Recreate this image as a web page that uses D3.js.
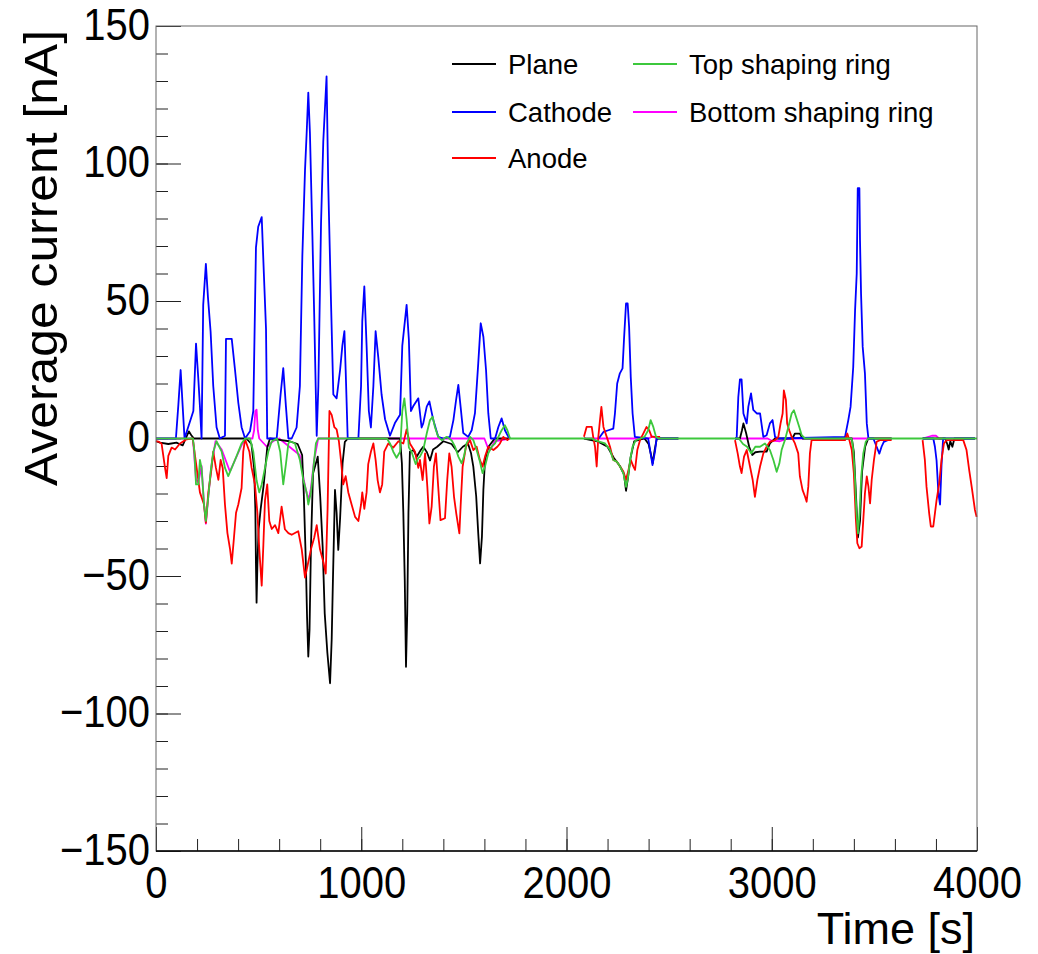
<!DOCTYPE html>
<html>
<head>
<meta charset="utf-8">
<script src="https://cdn.jsdelivr.net/npm/d3@7"></script>
<style>
  body { margin: 0; background: #fff; }
  svg { display: block; font-family: "Liberation Sans", Arial, Helvetica, sans-serif; }
</style>
</head>
<body>
<svg id="chart" width="1038" height="954"></svg>
<script>
// [time (s), average current (nA)], null marks a gap in the run
var plane = [
  [0,-1],[20,-1.5],[60,-2],[100,-1.5],[109,-1.8],[130,-2.5],[145,0],[160,2.6],[172,1.2],[185,0],[440,0],[465,-2],[478,-10.7],[484,-25.6],[487,-46],[490,-59.7],[494,-46],[500,-33],[510,-25.6],[525,-16.7],[542,-3.3],[555,0],[600,-0.5],[650,-1],[690,-2],[712,-6],[720,-20],[730,-45],[736,-65],[742,-79.3],[748,-69.6],[755,-39],[765,-12.7],[788,-6.6],[800,-21],[812,-39.4],[822,-63.6],[835,-78],[848,-89],[856,-73],[862,-51.5],[872,-18.7],[880,-27],[888,-40.5],[897,-29],[909,-9],[920,-1.2],[935,0],[1189,0],[1198,-9],[1205,-27],[1212,-51.5],[1218,-83],[1224,-63.6],[1230,-27],[1237,-4.8],[1255,-4.2],[1270,-6.6],[1290,-4.2],[1302,-3],[1320,-5],[1335,-8],[1350,-4],[1370,-3],[1400,-1],[1440,-2],[1470,-5],[1495,-3],[1520,-1.8],[1535,-5.4],[1546,-10.2],[1560,-21],[1570,-34.5],[1579,-45.4],[1588,-35.7],[1595,-18.7],[1603,-7.8],[1620,-3],[1650,0],[1720,0],
  null,
  [2085,0],[2150,-1],[2200,-3],[2230,-7],[2260,-10],[2280,-13],[2290,-19],[2300,-14],[2312,-7],[2330,-1],[2380,0],[2400,-2],[2412,-6],[2420,-9],[2430,-4],[2440,0],[2545,0],
  null,
  [2821,0],[2845,0],[2855,3],[2862,5.5],[2875,2],[2890,-3],[2905,-6],[2920,-5],[2943,-4.8],[2975,-4.8],[2991,-1.8],[3016,0],[3100,0],[3113,1.8],[3137,1.8],[3150,0],[3390,0],[3400,-5],[3410,-20],[3420,-36],[3430,-30],[3440,-12],[3455,-3],[3470,0],[3584,0],
  null,
  [3735,0],[3845,0],[3855,-2],[3862,-4],[3870,-1],[3880,-3],[3890,0],[3990,0]
];

var cathode = [
  [0,0],[97,0],[109,12.3],[120,24.9],[130,11.7],[139,0],[182,10],[195,34.5],[206,21.9],[214,11.7],[222,0],[230,48.6],[243,63.5],[253,51.5],[266,38.9],[279,19],[295,4.1],[311,0],[336,1],[341,36.2],[369,36.2],[385,24.9],[401,13],[417,4.1],[434,0],[458,2.6],[474,10],[487,69.4],[498,77],[515,80.5],[526,59],[536,39.8],[542,0],[588,0],[607,16],[620,25.6],[633,11.7],[645,0],[661,0],[685,4],[701,19],[713,66.4],[726,97.6],[734,111],[742,125.8],[750,111],[762,73.8],[771,44.2],[783,1],[791,19],[804,78],[815,108],[831,131.7],[839,93],[853,48.6],[864,16],[880,14.6],[897,25],[908,33.8],[918,39],[924,25],[934,0],[986,0],[999,19],[1005,42.7],[1015,55.3],[1026,33.8],[1037,10],[1047,4],[1059,19],[1070,39],[1083,29.5],[1099,16],[1116,7],[1140,1],[1164,5.6],[1189,8.6],[1200,33.8],[1221,48.6],[1232,36],[1242,10],[1253,11.7],[1278,14.6],[1294,4],[1302,5.5],[1319,11.6],[1332,13.5],[1351,6.7],[1375,0.6],[1400,0],[1432,0.6],[1449,6.7],[1462,14],[1473,19.5],[1484,11.6],[1497,2],[1521,0.6],[1538,3],[1554,9.2],[1570,27.3],[1582,41.9],[1595,37],[1608,24.9],[1619,9.2],[1631,0],[1652,0],[1668,4.2],[1684,7.3],[1700,3],[1717,0.6],[1725,0],
  null,
  [2157,0],[2180,2.4],[2204,3],[2228,3.6],[2236,9.1],[2247,20],[2260,23.7],[2273,25.5],[2280,35.8],[2290,49.1],[2298,49.1],[2305,40.6],[2313,22.4],[2322,9.1],[2333,0.6],[2398,0],[2410,-5.5],[2419,-9.7],[2431,-4.8],[2439,0],[2545,0],
  null,
  [2821,0],[2829,0],[2837,15],[2845,21.5],[2853,21.5],[2862,9.1],[2878,5.5],[2886,11.6],[2899,16.4],[2910,10.4],[2927,9.1],[2943,9.1],[2959,0.6],[2975,1.2],[2991,5.5],[3004,6.7],[3016,0.6],[3032,0],[3357,0.6],[3373,6.7],[3384,11.5],[3397,26],[3406,46.7],[3414,60],[3419,91],[3427,91],[3430,72],[3435,52.8],[3443,33.4],[3454,23.7],[3463,5.5],[3471,0],[3495,0],[3511,-3],[3524,-5.5],[3535,-3],[3546,-1.2],[3584,0],
  null,
  [3735,0],[3787,0],[3795,-3],[3803,-8],[3812,-20],[3820,-24],[3827,-10],[3835,0],[3990,0]
];

var anode = [
  [0,-1],[11,-1.1],[27,-1.8],[44,-10.7],[52,-14.4],[60,-6.3],[76,-3.3],[93,-4],[117,-1.8],[149,-0.3],[179,0],[198,-10.7],[214,-19.6],[234,-24],[243,-30.7],[255,-19.6],[271,-10.7],[279,-4.8],[292,-10.7],[304,-15],[315,-7.8],[325,-10.7],[336,-24],[348,-34.4],[361,-40.3],[369,-45.5],[380,-35.9],[390,-27],[401,-24],[417,-18],[425,-4.8],[434,-0.3],[455,-4.8],[466,-10.7],[482,-16.7],[494,-27],[503,-40],[515,-53.5],[523,-38.8],[531,-22.5],[542,-16.7],[552,-30],[564,-32.9],[580,-31.5],[596,-34.4],[612,-24.8],[628,-33],[645,-34.4],[661,-35],[693,-33.7],[710,-40.3],[726,-50.6],[739,-46],[755,-40.3],[771,-36],[783,-31.5],[799,-40.3],[815,-44.8],[827,-49.1],[836,-25.6],[845,10],[856,8.6],[869,4.1],[880,3.3],[891,-1],[901,-7.8],[912,-16.7],[924,-13.7],[937,-19.6],[953,-24],[970,-28.5],[986,-30],[999,-24],[1005,-19.6],[1015,-25.6],[1026,-19.6],[1034,-9.3],[1047,-4.8],[1059,-1.8],[1070,-7.8],[1080,-15.2],[1091,-19.6],[1102,-16.7],[1112,-4.8],[1132,-1.8],[1156,-3.3],[1181,-1],[1205,-1.8],[1221,3.3],[1237,-1.8],[1262,-4.8],[1278,-10.7],[1286,-7.8],[1299,-15.1],[1311,-5.4],[1322,-17.6],[1332,-30.9],[1343,-24.8],[1354,-10.2],[1364,-5.4],[1375,-17.6],[1386,-29.7],[1408,-29],[1419,-15],[1429,-5.4],[1440,-10.2],[1452,-21.2],[1463,-27.3],[1478,-34.5],[1484,-24.8],[1494,-10.2],[1510,-3],[1530,-0.6],[1546,-4.2],[1562,-3],[1578,-7.8],[1591,-10.2],[1603,-6.6],[1619,-3],[1644,-4.2],[1663,-3],[1676,-1.8],[1692,0.6],[1712,-0.6],[1720,0],
  null,
  [2085,0.6],[2098,4.2],[2123,4.2],[2130,0.6],[2139,-3],[2147,-10.2],[2155,0.6],[2163,6.6],[2170,11.5],[2180,4.2],[2196,0.6],[2212,-3],[2228,-7.8],[2245,-8.4],[2261,-10.2],[2277,-12],[2290,-15],[2302,-11.4],[2313,-7.8],[2326,-10.2],[2334,-11.4],[2345,-4.2],[2358,-0.6],[2374,1.8],[2390,4.2],[2403,3],[2415,0.6],[2456,0.6],
  null,
  [2821,-0.6],[2834,-5.4],[2845,-10.2],[2853,-12.6],[2865,-6.6],[2878,-4.2],[2894,-10.2],[2907,-15],[2918,-21.2],[2930,-15],[2943,-10.2],[2959,-5.4],[2975,-3],[2991,-1.2],[3016,-0.6],[3032,0.6],[3043,5.5],[3053,9.1],[3059,17.5],[3069,14],[3075,5.5],[3085,3],[3097,0.6],[3113,-1.8],[3129,-5.4],[3137,-13.8],[3150,-18.7],[3162,-21.1],[3170,-23],[3178,-17.5],[3186,-5.4],[3194,-0.6],[3357,-0.6],[3368,1.8],[3378,-0.6],[3390,-4.2],[3400,-12.6],[3410,-29.6],[3417,-38.1],[3427,-39.9],[3438,-39.3],[3446,-29.6],[3454,-19.9],[3463,-13.8],[3471,-17.5],[3479,-23.6],[3487,-15],[3498,-7.8],[3511,-1.2],[3527,-0.6],[3584,-0.6],
  null,
  [3735,-0.6],[3746,-7.8],[3754,-17.5],[3767,-27.2],[3775,-32],[3787,-32],[3795,-27.2],[3803,-22.4],[3816,-16.3],[3827,-7.8],[3839,-1.8],[3852,-0.6],[3933,-0.6],[3949,-4.2],[3962,-11.5],[3974,-17.5],[3990,-26],[3998,-28.5]
];

var topRing = [
  [0,0],[180,0],[187,-4.8],[195,-16.7],[206,-16.7],[214,-7.8],[222,-10.7],[234,-24],[243,-30],[255,-21],[266,-12.2],[279,-4.8],[295,-1],[320,-4.8],[336,-10.7],[352,-13.7],[369,-10.7],[393,-6.3],[417,-1.8],[434,0],[458,0],[474,-4.8],[490,-15.2],[503,-19.6],[515,-16.7],[531,-10.7],[547,-4.8],[564,-1],[590,0],[605,-4.8],[620,-16.7],[633,-9.3],[645,-1.8],[653,-1],[677,-1.8],[701,-7.8],[718,-15.2],[734,-19.6],[742,-24],[755,-19.6],[767,-10.7],[779,-1.8],[790,0],[1125,0],[1140,-1.8],[1156,-4.8],[1172,-7],[1189,-4.8],[1200,10],[1210,14.6],[1221,7],[1232,-3.3],[1245,-4.8],[1265,-9.3],[1278,-7],[1286,-6.6],[1302,-4.2],[1319,1.8],[1335,6.7],[1348,7.9],[1359,4.2],[1375,0.6],[1392,-0.6],[1416,0.6],[1440,-0.6],[1457,-3],[1473,-6.6],[1489,-9],[1500,-6.6],[1513,-1.8],[1530,0.6],[1546,-0.6],[1562,-4.2],[1578,-8.4],[1591,-12.6],[1603,-10.2],[1619,-5.4],[1635,-3],[1652,-1.8],[1668,0.6],[1684,3],[1700,4.8],[1712,3],[1725,0],[2125,0],[2139,-0.6],[2163,-1.2],[2188,-1.8],[2212,-4.2],[2228,-7.8],[2245,-8.4],[2261,-10.2],[2277,-12.6],[2290,-17.6],[2298,-15],[2310,-7.8],[2322,-3],[2338,-0.6],[2360,0],[2380,0.6],[2398,3],[2410,6.7],[2423,4.2],[2436,0.6],[2450,0],[2840,0],[2860,-2],[2880,-3],[2900,-5.4],[2920,-3],[2943,-3],[2967,-1.8],[2991,-4.2],[3008,-7.8],[3024,-12.1],[3037,-9.1],[3048,-4.2],[3064,-0.6],[3081,4.2],[3097,9.1],[3108,10.3],[3121,7.3],[3134,4.2],[3146,1.2],[3162,0],[3390,0],[3397,-4],[3405,-13.8],[3412,-26],[3420,-34.5],[3428,-27],[3436,-13.8],[3446,-5.4],[3458,-1.2],[3470,0],[4000,0]
];

var bottomRing = [
  [0,0],[180,0],[195,-15],[206,-16],[222,-10],[234,-24],[243,-31],[255,-21],[270,-10],[290,-1],[320,-4],[360,-12],[420,-2],[440,0],[470,0],[478,3],[484,10],[490,10.5],[496,3],[503,0],[540,-3],[570,-1],[600,0],[700,-6],[720,-15],[734,-20],[745,-22],[755,-18],[770,-8],[790,0],[1150,0],[1600,0],[1615,-3],[1630,-4],[1650,-1],[1725,0],
  null,
  [2085,0],[2400,0],[2420,0.8],[2440,0],[2545,0],
  null,
  [2821,0],[2980,0],[3000,-0.8],[3040,-1],[3080,0],[3584,0],
  null,
  [3735,0],[3780,1],[3800,1],[3815,0],[3990,0]
];

var seriesNames = ["Plane", "Cathode", "Anode", "Top shaping ring", "Bottom shaping ring"];
var seriesColors = ["#000000", "#0000ff", "#ff0000", "#3cc83c", "#ff00ff"];
var seriesData = [plane, cathode, anode, topRing, bottomRing];
var drawOrder = [4, 0, 1, 2, 3];

var xMajor = [0, 1000, 2000, 3000, 4000];
var yMajor = [-150, -100, -50, 0, 50, 100, 150];

var margin = { top: 26, left: 156 };
var width = 821, height = 825;
var stretch = 1.12; // labels in the picture are a bit taller than wide

var svg = d3.select("#chart");
var g = svg.append("g")
    .attr("transform", "translate(" + margin.left + "," + margin.top + ")");

var x = d3.scaleLinear().domain([0, 4000]).range([0, width]);
var y = d3.scaleLinear().domain([-150, 150]).range([height, 0]);

// minor ticks
g.append("g")
    .attr("transform", "translate(0," + height + ")")
    .call(d3.axisBottom(x).tickValues(d3.range(0, 4001, 200)).tickSize(-12).tickFormat(""))
    .call(a => a.select(".domain").remove());
g.append("g")
    .call(d3.axisLeft(y).tickValues(d3.range(-150, 151, 10)).tickSize(-12).tickFormat(""))
    .call(a => a.select(".domain").remove());

// major ticks + labels
var xAxis = g.append("g")
    .attr("transform", "translate(0," + height + ")")
    .call(d3.axisBottom(x).tickValues(xMajor).tickSize(-24).tickPadding(14).tickFormat(d3.format("d")))
    .call(a => a.select(".domain").remove());
var yAxis = g.append("g")
    .call(d3.axisLeft(y).tickValues(yMajor).tickSize(-25).tickPadding(6)
        .tickFormat(d => d < 0 ? "\u2212" + Math.abs(d) : d))
    .call(a => a.select(".domain").remove());

[xAxis, yAxis].forEach(function(a) {
    a.selectAll("text")
        .attr("fill", "#000")
        .attr("transform", "scale(1," + stretch + ")")
        .style("font-size", "40px")
        .style("font-family", "'Liberation Sans', Arial, sans-serif");
});
yAxis.selectAll("text").attr("dy", "0.30em");
g.selectAll(".tick line").attr("stroke", "#222");

// series
var line = d3.line()
    .defined(d => d !== null)
    .x(d => x(d[0]))
    .y(d => y(d[1]));

drawOrder.forEach(function(i) {
    g.append("path")
        .datum(seriesData[i])
        .attr("fill", "none")
        .attr("stroke", seriesColors[i])
        .attr("stroke-width", 1.8)
        .attr("stroke-linejoin", "round")
        .attr("d", line);
});

// frame
g.append("rect")
    .attr("width", width)
    .attr("height", height)
    .attr("fill", "none")
    .attr("stroke", "#666")
    .attr("stroke-width", 1);
g.append("line")
    .attr("x1", 0).attr("x2", width)
    .attr("y1", height).attr("y2", height)
    .attr("stroke", "#000").attr("stroke-width", 1.5);

// axis titles
svg.append("text")
    .attr("x", 975)
    .attr("y", 944)
    .attr("text-anchor", "end")
    .style("font-size", "45px")
    .text("Time [s]");

svg.append("text")
    .attr("transform", "translate(57,30) rotate(-90) scale(1.06,1)")
    .attr("text-anchor", "end")
    .style("font-size", "47px")
    .text("Average current [nA]");

// legend, two columns filled row by row
var legendPos = [
    { x: 452, y: 64 },   // Plane
    { x: 452, y: 112 },  // Cathode
    { x: 452, y: 158 },  // Anode
    { x: 633, y: 64 },   // Top shaping ring
    { x: 633, y: 112 }   // Bottom shaping ring
];
var legend = svg.append("g");
seriesNames.forEach(function(name, i) {
    var p = legendPos[i];
    legend.append("line")
        .attr("x1", p.x).attr("x2", p.x + 44)
        .attr("y1", p.y).attr("y2", p.y)
        .attr("stroke", seriesColors[i])
        .attr("stroke-width", 1.8);
    legend.append("text")
        .attr("x", p.x + 56)
        .attr("y", p.y + 10)
        .style("font-size", "27.5px")
        .text(name);
});
</script>
</body>
</html>
